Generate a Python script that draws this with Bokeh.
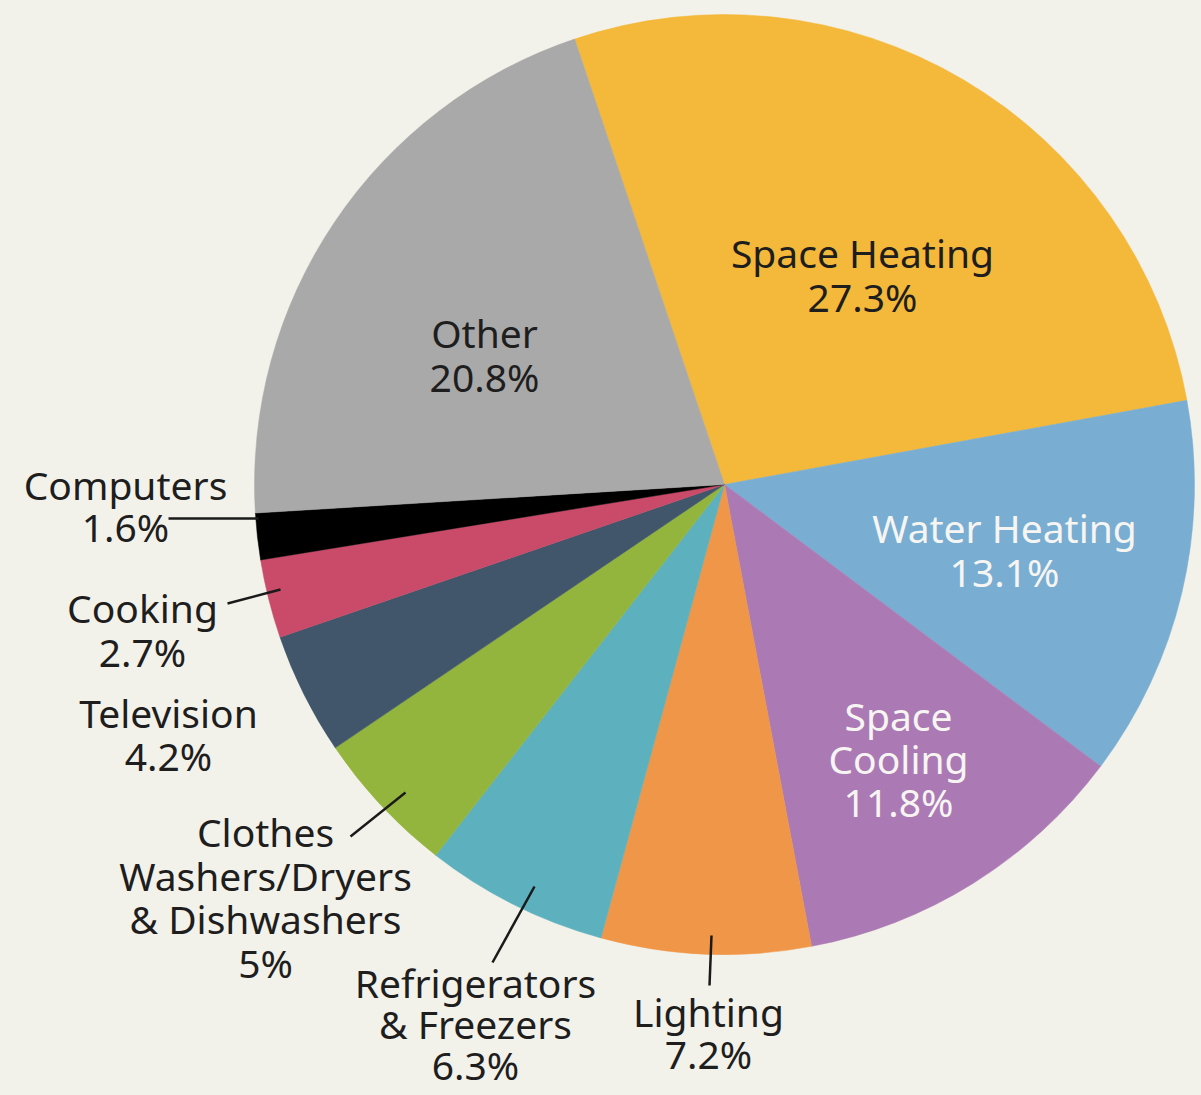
import math
from bokeh.plotting import figure
from bokeh.models import Range1d, ColumnDataSource
from bokeh.core.properties import value
from bokeh.embed import file_html
from bokeh.resources import INLINE

# ---- data ----
categories = ["Space Heating", "Water Heating", "Space Cooling", "Lighting",
              "Refrigerators & Freezers", "Clothes Washers/Dryers & Dishwashers",
              "Television", "Cooking", "Computers", "Other"]
shares = [27.3, 13.1, 11.8, 7.2, 6.3, 5.0, 4.2, 2.7, 1.6, 20.8]
share_labels = ["27.3%", "13.1%", "11.8%", "7.2%", "6.3%", "5%", "4.2%", "2.7%", "1.6%", "20.8%"]
label_lines = [["Space Heating"], ["Water Heating"], ["Space", "Cooling"], ["Lighting"],
               ["Refrigerators", "& Freezers"], ["Clothes", "Washers/Dryers", "& Dishwashers"],
               ["Television"], ["Cooking"], ["Computers"], ["Other"]]
colors = ["#f4b83a", "#79aed2", "#ab7ab5", "#ef9649", "#5db0bd", "#93b53d",
          "#41566a", "#c94a69", "#000000", "#a9a9a9"]

# ---- layout (image pixel coordinates) ----
W, H = 1201, 1095
BG = "#f3f2ea"
CX, CY, R = 724, 484, 470
START_DEG = 108.6
FS = 39

def Y(y):
    return H - y

label_pos = {  # label centre x, first-line centre y, line step
    "Space Heating": (862, 252, 44),
    "Water Heating": (1004, 527, 44),
    "Space Cooling": (898, 715, 43),
    "Lighting": (708, 1011, 42),
    "Refrigerators & Freezers": (475, 982, 41),
    "Clothes Washers/Dryers & Dishwashers": (265, 831, 43.7),
    "Television": (168, 712, 43),
    "Cooking": (142, 607, 44),
    "Computers": (125, 484, 42),
    "Other": (484, 332, 44),
}
white_text = {"Water Heating", "Space Cooling"}
leaders = {  # (x0, y0, x1, y1)
    "Computers": (168, 518, 258, 518),
    "Cooking": (227, 603, 280, 589),
    "Clothes Washers/Dryers & Dishwashers": (350, 836, 405, 792),
    "Refrigerators & Freezers": (492, 962, 534, 886),
    "Lighting": (709, 985, 711, 935),
}

p = figure(width=W, height=H, output_backend="svg", toolbar_location=None,
           x_range=Range1d(0, W), y_range=Range1d(0, H), min_border=0)
p.axis.visible = False
p.grid.visible = False
p.outline_line_color = None
p.background_fill_color = BG
p.border_fill_color = BG

starts, ends = [], []
cum = 0.0
total = sum(shares)
for v in shares:
    s = math.radians(START_DEG - 360.0 * cum / total)
    cum += v
    e = math.radians(START_DEG - 360.0 * cum / total)
    starts.append(s)
    ends.append(e)

src = ColumnDataSource(dict(cat=categories, val=shares, start=starts, end=ends, color=colors))
p.wedge(x=CX, y=Y(CY), radius=R, start_angle="start", end_angle="end",
        direction="clock", fill_color="color", line_color="color", line_width=0.5, source=src)

for cat, (x0, y0, x1, y1) in leaders.items():
    p.line([x0, x1], [Y(y0), Y(y1)], line_color="#1a1a1a", line_width=2.5)

xs, ys, texts, tcols = [], [], [], []
for cat, lines, pct in zip(categories, label_lines, share_labels):
    x, y, step = label_pos[cat]
    col = "#f7f5f2" if cat in white_text else "#1e1e1e"
    for i, t in enumerate(lines + [pct]):
        xs.append(x)
        ys.append(Y(y + i * step))
        texts.append(t)
        tcols.append(col)

p.text(x=xs, y=ys, text=texts, text_align="center", text_baseline="middle",
       text_font=value("Noto Sans"), text_font_size=f"{FS}px", text_color=tcols)

html = file_html(p, INLINE)
html = html.replace("<head>", "<head><style>html,body{background:%s;margin:0;overflow:hidden;}</style>" % BG, 1)
open("out.html", "w").write(html)
